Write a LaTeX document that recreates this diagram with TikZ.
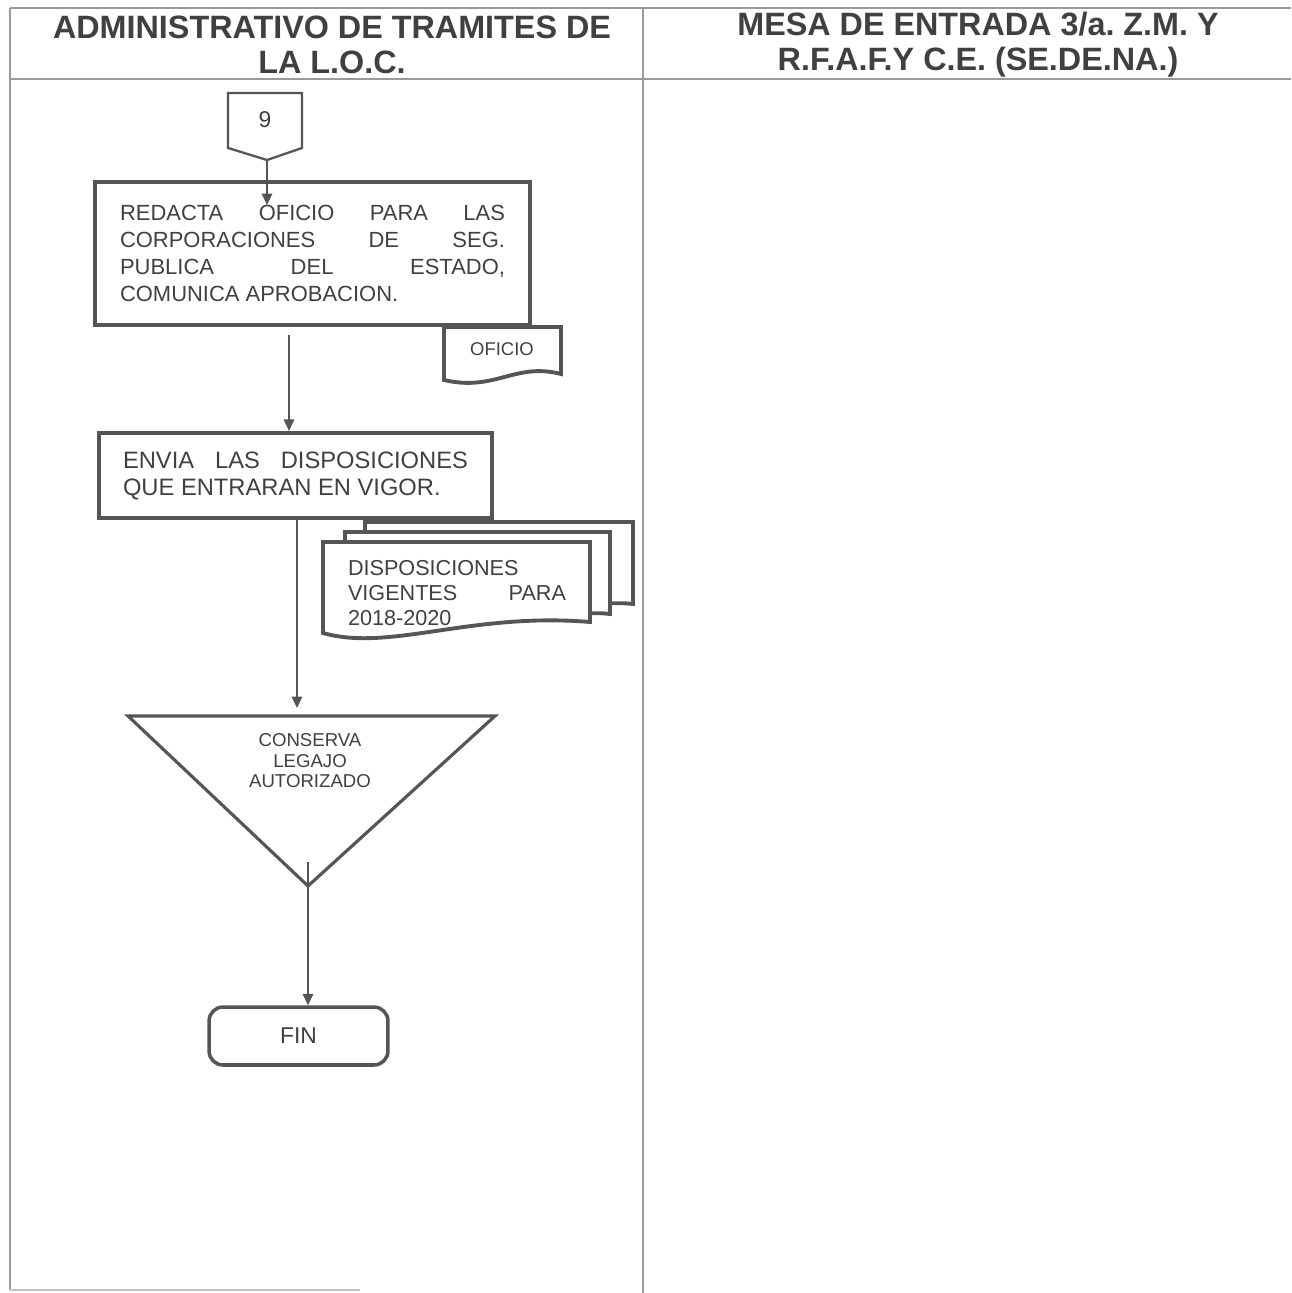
\documentclass[tikz,border=0pt]{standalone}
\usepackage{fontspec}
\setmainfont{Liberation Sans}
\usetikzlibrary{arrows.meta}
\definecolor{ink}{HTML}{404040}
\definecolor{edge}{HTML}{555555}
\definecolor{framec}{HTML}{9A9A9A}
\frenchspacing
\begin{document}
\begin{tikzpicture}[x=0.02cm,y=-0.02cm,
  procbox/.style={draw=edge, line width=2.4pt, fill=white, rectangle, text=ink, align=justify, inner ysep=0pt},
  arr/.style={draw=edge, line width=0.9pt, -{Triangle[length=6.5pt,width=6pt]}},
  docshape/.style={draw=edge, line width=2.2pt, fill=white, line join=miter},
  framel/.style={draw=framec, line width=0.9pt},
  headtxt/.style={text=ink, align=center, font=\bfseries\fontsize{18.4}{20}\selectfont, inner sep=0pt},
  smalltxt/.style={text=ink, inner sep=0pt}
]
\useasboundingbox (0,0) rectangle (1291,1293);
% frame
\draw[framel] (10,8) -- (1291,8);
\draw[framel] (10,79) -- (1291,79);
\draw[framel] (10,8) -- (10,1290);
\draw[framel] (643,8) -- (643,1293);
\draw[draw=framec!60, line width=0.8pt] (10,1290) -- (360,1290);
% headers
\node[headtxt] (h1) at (332,45) {ADMINISTRATIVO DE TRAMITES DE\\LA L.O.C.};
\node[headtxt] (h2) at (978,45) {MESA DE ENTRADA 3/a. Z.M. Y\\R.F.A.F.Y C.E. (SE.DE.NA.)};
% off-page connector 9
\draw[draw=edge, line width=1.3pt, fill=white] (228,93) -- (302,93) -- (302,148) -- (267,160) -- (228,148) -- cycle;
\coordinate (c9tip) at (267,160);
\node[smalltxt, font=\fontsize{13}{15}\selectfont] (c9) at (265,120) {9};
% box 1
\node[procbox, minimum width=8.7cm, minimum height=2.86cm, text width=7.7cm, inner xsep=0.5cm,
  font=\fontsize{12.5}{15.4}\selectfont] (b1) at (312.5,253.5)
  {REDACTA OFICIO PARA LAS\linebreak CORPORACIONES DE SEG.\linebreak PUBLICA DEL ESTADO,\linebreak COMUNICA APROBACION.};
\coordinate (a1end) at (267,205);
\draw[arr] (c9tip) -- (a1end);
% document OFICIO
\draw[docshape] (444,327) -- (561,327) -- (561,374) .. controls (515,362) and (495,392) .. (444,380) -- cycle;
\node[smalltxt, font=\fontsize{10.5}{12}\selectfont] (d1) at (502,349) {OFICIO};
% arrow 2
\coordinate (a2start) at (289,335);
% box 2
\node[procbox, minimum width=7.86cm, minimum height=1.7cm, text width=6.9cm, inner xsep=0.48cm,
  font=\fontsize{13.5}{15.4}\selectfont] (b2) at (295.5,475.5)
  {ENVIA LAS DISPOSICIONES\linebreak QUE ENTRARAN EN VIGOR.};
\draw[arr] (a2start) -- (a2start |- b2.north);
% multi-document
\draw[docshape] (365,522) -- (633,522) -- (633,604) .. controls (600,600) and (560,612) .. (520,610) -- (365,610) -- cycle;
\draw[docshape] (345,532) -- (610,532) -- (610,614) .. controls (580,610) and (540,622) .. (500,620) -- (345,620) -- cycle;
\draw[docshape] (323,542) -- (590,542) -- (590,622) .. controls (470,612) and (390,652) .. (323,633) -- cycle;
\node[smalltxt, text width=4.36cm, align=justify, font=\fontsize{12.3}{14.2}\selectfont] (d2) at (457,593)
  {DISPOSICIONES\\ VIGENTES PARA\linebreak 2018-2020};
% arrow 3
\coordinate (a3start) at (297,520);
% triangle
\draw[draw=edge, line width=1.8pt, fill=white, line join=miter] (128,716) -- (495,716) -- (308,886) -- cycle;
\node[smalltxt, align=center, font=\fontsize{10.6}{11.7}\selectfont] (t1) at (310,761) {CONSERVA\\LEGAJO\\AUTORIZADO};
\coordinate (tritop) at (297,708);
\draw[arr] (a3start) -- (tritop);
% FIN
\node[draw=edge, line width=2pt, rounded corners=8pt, fill=white, minimum width=3.58cm, minimum height=1.16cm,
  text=ink, font=\fontsize{13}{15}\selectfont] (fin) at (298.5,1036) {FIN};
\coordinate (a4start) at (308,862);
\draw[arr] (a4start) -- (a4start |- fin.north);
\end{tikzpicture}
\end{document}
